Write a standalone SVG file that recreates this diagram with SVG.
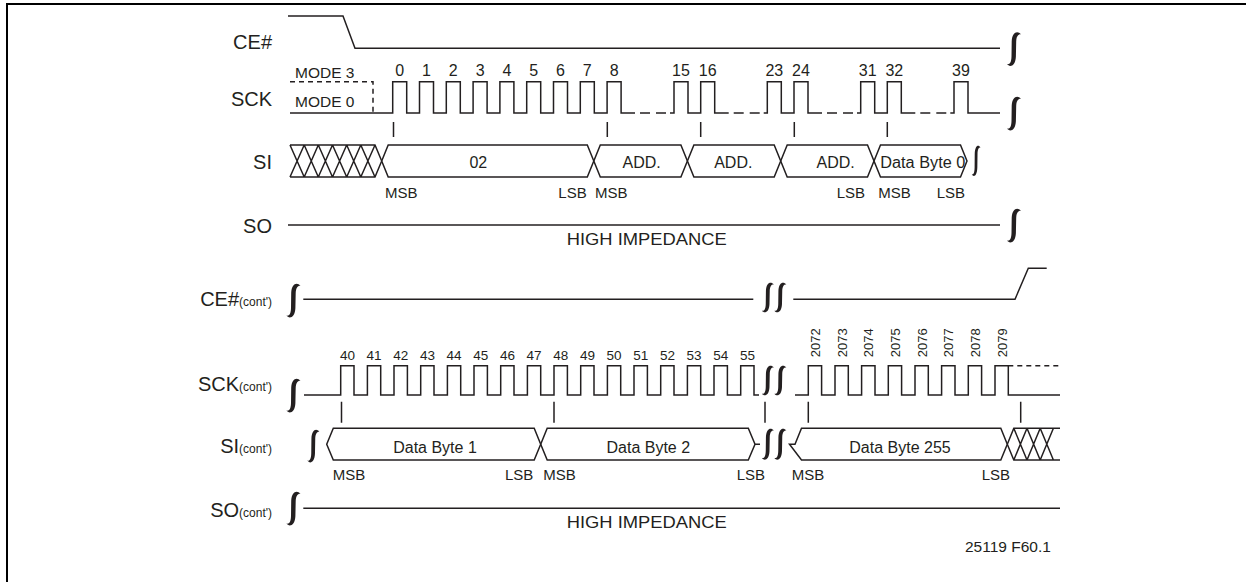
<svg xmlns="http://www.w3.org/2000/svg" width="1246" height="582" viewBox="0 0 1246 582">
<style>
.ln{stroke:#231f20;stroke-width:1.5;fill:none}
.dash{stroke:#231f20;stroke-width:1.5;fill:none;stroke-dasharray:5 4}
.brk{fill:#231f20;stroke:none}
.t{font-family:"Liberation Sans",Arial,sans-serif;fill:#231f20}
.lbl{font-size:20px;text-anchor:end}
.sm{font-size:12px}
.num{font-size:16px;text-anchor:middle}
.num2{font-size:13.5px;text-anchor:middle}
.bit{font-size:15px}
.dat{font-size:16px;text-anchor:middle}
</style>
<defs>
<path id="brk" class="brk" d="M14.5,2.8 C11,-1.2 5.6,0.5 5.2,10 L5,25 C4.8,31.5 3,33.2 0.5,32.6 C3,36 9,35.2 9.4,25 L9.7,10 C9.9,4.5 12,2.4 14.5,2.8 Z"/>
</defs>
<rect width="1246" height="582" fill="#fff"/>
<path d="M7,582 V4 H1246" stroke="#000" stroke-width="2" fill="none"/>

<g id="ce">
<text class="t lbl" x="272" y="49">CE#</text>
<path class="ln" d="M288,16 H343 L355,48.3 H1000"/>
<use href="#brk" x="1006.5" y="31.5"/>
</g>

<g id="sck">
<text class="t lbl" x="272" y="106">SCK</text>
<text class="t" x="295" y="77.5" font-size="15.5">MODE 3</text>
<text class="t" x="295" y="106.5" font-size="15.5">MODE 0</text>
<path class="dash" d="M290,81.7 H373 V113"/>
<path class="ln" d="M290,113 H392.7 V81.7 H406.7 V113 H419.5 V81.7 H433.5 V113 H446.3 V81.7 H460.3 V113 H473.1 V81.7 H487.1 V113 H499.9 V81.7 H513.9 V113 H526.7 V81.7 H540.7 V113 H553.5 V81.7 H567.5 V113 H580.3 V81.7 H594.3 V113 H607.1 V81.7 H621.1 V113 H635 M640,113 H650 M656,113 H666 M670,113 H674 V81.7 H688 V113 H700.7 V81.7 H714.7 V113 H728.7 M733.7,113 H743.7 M749.7,113 H759.7 M763.7,113 H767.3 V81.7 H781.3 V113 H794 V81.7 H808 V113 H822 M827,113 H837 M843,113 H853 M857,113 H860.7 V81.7 H874.7 V113 H887.3 V81.7 H901.3 V113 H915.3 M920.3,113 H930.3 M936.3,113 H946.3 M950.3,113 H954 V81.7 H968 V113 H1000"/>
<use href="#brk" x="1006.5" y="96"/>
<g class="t num">
<text x="399.7" y="76">0</text><text x="426.5" y="76">1</text><text x="453.3" y="76">2</text><text x="480.1" y="76">3</text><text x="506.9" y="76">4</text><text x="533.7" y="76">5</text><text x="560.5" y="76">6</text><text x="587.3" y="76">7</text><text x="614.1" y="76">8</text>
<text x="681" y="76">15</text><text x="707.7" y="76">16</text><text x="774.3" y="76">23</text><text x="801" y="76">24</text><text x="867.7" y="76">31</text><text x="894.3" y="76">32</text><text x="961" y="76">39</text>
</g>
<path class="ln" d="M393.5,122 V137 M607.3,122 V137 M700.7,122 V137 M794.3,122 V137 M887.3,122 V137"/>
</g>

<g id="si">
<text class="t lbl" x="272" y="169">SI</text>
<path class="ln" d="M381.7,161 L375,145 H290 M381.7,161 L375,177 H290 M290,145 L304.2,177 M290,177 L304.2,145 M304.2,145 L318.3,177 M304.2,177 L318.3,145 M318.3,145 L332.5,177 M318.3,177 L332.5,145 M332.5,145 L346.7,177 M332.5,177 L346.7,145 M346.7,145 L360.8,177 M346.7,177 L360.8,145 M360.8,145 L375,177 M360.8,177 L375,145"/>
<path class="ln" d="M381.7,161 L388.2,145 H587.3 L593.8,161 L587.3,177 H388.2 Z"/>
<path class="ln" d="M593.8,161 L600.3,145 H680.9 L687.4,161 L680.9,177 H600.3 Z"/>
<path class="ln" d="M687.4,161 L693.9,145 H774.2 L780.7,161 L774.2,177 H693.9 Z"/>
<path class="ln" d="M780.7,161 L787.2,145 H867.5 L874,161 L867.5,177 H787.2 Z"/>
<path class="ln" d="M874,161 L880.5,145 H960.5 L967,161 L960.5,177 H880.5 Z"/>
<use href="#brk" transform="translate(971.5,145) scale(0.62,0.9)"/>
<text class="t dat" x="478.3" y="168.3">02</text>
<text class="t dat" x="641.7" y="168.3">ADD.</text>
<text class="t dat" x="733.3" y="168.3">ADD.</text>
<text class="t dat" x="835.7" y="168.3">ADD.</text>
<text class="t dat" x="922.8" y="168.3" textLength="85" lengthAdjust="spacingAndGlyphs">Data Byte 0</text>
<g class="t bit">
<text x="385" y="197.5">MSB</text><text x="558.3" y="197.5">LSB</text><text x="595" y="197.5">MSB</text>
<text x="836.7" y="197.5">LSB</text><text x="878.3" y="197.5">MSB</text><text x="936.7" y="197.5">LSB</text>
</g>
</g>

<g id="so">
<text class="t lbl" x="272" y="232.5">SO</text>
<path class="ln" d="M288,225 H1000"/>
<use href="#brk" x="1006.5" y="208"/>
<text class="t" x="566.7" y="245" font-size="17" textLength="160" lengthAdjust="spacingAndGlyphs">HIGH IMPEDANCE</text>
</g>

<g id="ce-cont">
<text class="t lbl" x="272" y="306">CE#<tspan class="sm">(cont')</tspan></text>
<use href="#brk" x="286" y="283"/>
<path class="ln" d="M303.3,299.3 H753.3 M793.3,299.3 H1015 L1028.3,268.3 H1046.7"/>
<use href="#brk" transform="translate(761.5,282) scale(0.85,0.88)"/>
<use href="#brk" transform="translate(774,282) scale(0.85,0.88)"/>
</g>

<g id="sck-cont">
<text class="t lbl" x="272" y="391">SCK<tspan class="sm">(cont')</tspan></text>
<use href="#brk" x="286" y="378"/>
<path class="ln" d="M304,395 H340.7 V365.7 H354 V395 H367.4 V365.7 H380.7 V395 H394 V365.7 H407.4 V395 H420.7 V365.7 H434 V395 H447.4 V365.7 H460.7 V395 H474 V365.7 H487.4 V395 H500.7 V365.7 H514 V395 H527.4 V365.7 H540.7 V395 H554 V365.7 H567.4 V395 H580.7 V365.7 H594 V395 H607.4 V365.7 H620.7 V395 H634 V365.7 H647.4 V395 H660.7 V365.7 H674 V395 H687.4 V365.7 H700.7 V395 H714 V365.7 H727.4 V395 H740.7 V365.7 H754 V395 H759"/>
<use href="#brk" transform="translate(761.5,365) scale(0.85,0.88)"/>
<use href="#brk" transform="translate(774,365) scale(0.85,0.88)"/>
<path class="ln" d="M795,395 H808.3 V365.7 H821.6 V395 H835 V365.7 H848.3 V395 H861.6 V365.7 H875 V395 H888.3 V365.7 H901.6 V395 H915 V365.7 H928.3 V395 H941.6 V365.7 H955 V395 H968.3 V365.7 H981.6 V395 H995 V365.7 H1008.3 V395 H1060"/>
<path class="dash" d="M1008.3,365.7 H1060"/>
<g class="t num2">
<text x="347.4" y="360">40</text><text x="374" y="360">41</text><text x="400.7" y="360">42</text><text x="427.4" y="360">43</text><text x="454" y="360">44</text><text x="480.7" y="360">45</text><text x="507.4" y="360">46</text><text x="534" y="360">47</text><text x="560.7" y="360">48</text><text x="587.4" y="360">49</text><text x="614" y="360">50</text><text x="640.7" y="360">51</text><text x="667.4" y="360">52</text><text x="694" y="360">53</text><text x="720.7" y="360">54</text><text x="747.4" y="360">55</text>
</g>
<g class="t" font-size="13">
<text transform="translate(820,357.3) rotate(-90)">2072</text>
<text transform="translate(846.7,357.3) rotate(-90)">2073</text>
<text transform="translate(873.3,357.3) rotate(-90)">2074</text>
<text transform="translate(900,357.3) rotate(-90)">2075</text>
<text transform="translate(926.7,357.3) rotate(-90)">2076</text>
<text transform="translate(953.3,357.3) rotate(-90)">2077</text>
<text transform="translate(980,357.3) rotate(-90)">2078</text>
<text transform="translate(1006.7,357.3) rotate(-90)">2079</text>
</g>
<path class="ln" d="M341.5,401.7 V422.7 M554,401.7 V422.7 M765,401.7 V422.7 M808.3,401.7 V422.7 M1020.7,401.7 V422.7"/>
</g>

<g id="si-cont">
<text class="t lbl" x="272" y="453">SI<tspan class="sm">(cont')</tspan></text>
<use href="#brk" transform="translate(307,429) scale(0.85,0.97)"/>
<path class="ln" d="M326.7,444.2 L333.3,428.3 H534.2 L540.7,444.2 L534.2,460 H333.3 Z"/>
<path class="ln" d="M540.7,444.2 L547.2,428.3 H748.3 L755,444.2 L748.3,460 H547.2 Z M755,444.2 H760"/>
<use href="#brk" transform="translate(761.5,428) scale(0.85,0.92)"/>
<use href="#brk" transform="translate(774,428) scale(0.85,0.92)"/>
<path class="ln" d="M789.5,444.2 H795 L801.5,428.3 H1000.8 L1007.3,444.2 L1000.8,460 H801.5 Z"/>
<path class="ln" d="M1007.3,444.2 L1013.8,428.3 H1060 M1007.3,444.2 L1013.8,460 H1060 M1013.8,428.3 L1027,460 M1013.8,460 L1027,428.3 M1027,428.3 L1040.2,460 M1027,460 L1040.2,428.3 M1040.2,428.3 L1053.4,460 M1040.2,460 L1053.4,428.3"/>
<text class="t dat" x="435" y="452.7">Data Byte 1</text>
<text class="t dat" x="648.3" y="452.7">Data Byte 2</text>
<text class="t dat" x="900" y="452.7">Data Byte 255</text>
<g class="t bit">
<text x="332.7" y="480">MSB</text><text x="505" y="480">LSB</text><text x="543.3" y="480">MSB</text>
<text x="736.7" y="480">LSB</text><text x="791.7" y="480">MSB</text><text x="981.7" y="480">LSB</text>
</g>
</g>

<g id="so-cont">
<text class="t lbl" x="272" y="517">SO<tspan class="sm">(cont')</tspan></text>
<use href="#brk" x="286" y="491"/>
<path class="ln" d="M303.3,508.3 H1060"/>
<text class="t" x="566.7" y="528.3" font-size="17" textLength="160" lengthAdjust="spacingAndGlyphs">HIGH IMPEDANCE</text>
<text class="t" x="965" y="552.3" font-size="15.5">25119 F60.1</text>
</g>
</svg>
